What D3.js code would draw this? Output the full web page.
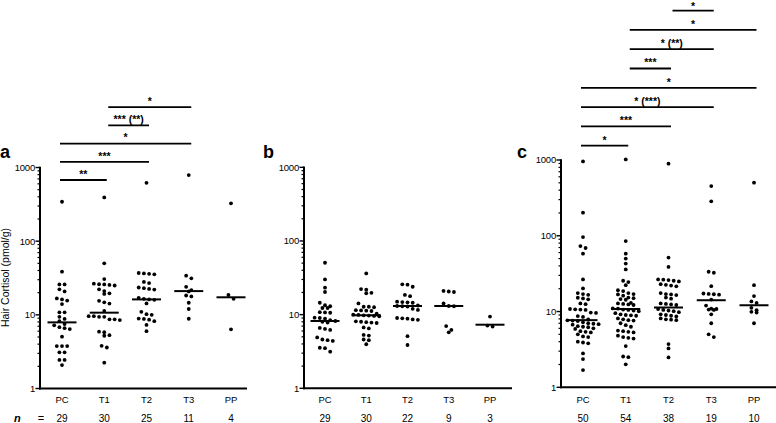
<!DOCTYPE html>
<html><head><meta charset="utf-8">
<script src="https://cdn.jsdelivr.net/npm/d3@7"></script>
<style>
body{margin:0;background:#fff}
svg{display:block}
text{font-family:"Liberation Sans",Arial,Helvetica,sans-serif;fill:#000}
</style>
</head><body>
<svg id="chart" width="776" height="423"></svg>
<script>
// ---------- data ----------
const categories = ["PC","T1","T2","T3","PP"];

const valuesA = [
  [343,38.5,25.9,25.9,22.2,20.8,16.7,16.2,15.6,14.0,10.8,10.8,9.4,8.8,8.2,7.5,7.2,6.8,6.6,6.4,5.05,3.77,3.77,3.77,3.1,3.1,2.44,2.44,2.08],
  [393,50,30.6,26.5,26,25.9,25.5,25,22.2,21,19.6,19.2,15.5,14.8,14.2,11.3,9.6,9.6,9.4,9.4,8.7,8.7,8.5,5.9,5.8,5.3,5.2,3.8,3.6,2.24],
  [620,37,36.5,36,35.5,28,27,23.5,23,22.5,22,17,16.5,16.2,16,14.3,11,10.2,10,8.9,8.8,8.6,8.2,7.3,6.0],
  [789,34,31.3,24,21.7,20.8,18.3,17.8,14.6,12,8.85],
  [326,18.6,16.5,6.35]
];
const mediansA = [7.9,10.7,16.2,21,17.3];
const nA = [29,30,25,11,4];

const valuesB = [
  [50.6,30.1,23.2,20.3,14.5,13.4,13.0,12.3,12.3,10.8,10.7,10.6,9.1,9.0,8.8,8.4,8.2,8.0,7.8,6.6,6.4,6.2,4.9,4.6,4.5,4.4,3.55,3.5,3.14],
  [36.3,22.2,21.8,19.8,19.5,14.2,12.8,12.8,12.6,11.5,11.4,11.3,11.2,10.3,10.0,9.9,9.8,9.7,9.6,9.5,8.1,8.0,7.9,7.8,7.7,6.7,6.5,5.3,5.2,4.6,4.5,3.96],
  [25.8,25.5,23.9,18.5,17.8,15.0,14.8,14.7,14.5,13.3,13.1,13.0,12.9,12.0,11.6,9.0,8.9,8.8,8.6,8.5,5.1,3.87],
  [21.0,20.6,20.3,14.2,13.1,13.0,7.0,6.2,5.75],
  [9.4,7.1,6.9]
];
const mediansB = [8.2,9.8,13.1,13.1,7.3];
const nB = [29,30,22,9,3];

const valuesC = [
  [958,202,96,73,69,58,26.5,20.2,17.5,17.0,16.6,15.2,14.9,14.5,12.8,12.5,10.8,10.7,10.6,10.5,9.7,9.6,8.7,8.5,7.9,7.65,7.6,7.5,7.2,7.0,6.9,6.8,6.7,6.4,6.3,6.2,6.0,5.9,5.5,5.4,5.3,5.0,4.7,4.6,4.0,3.9,3.8,2.8,2.36,1.69],
  [1018,85,58,50,43,36,25.5,24.5,22.3,19.1,18.6,17.5,17.0,16.8,16.2,15.3,15.0,14.6,14.3,13.0,12.8,12.6,12.4,12.2,11.0,10.9,10.6,10.5,10.3,10.1,9.5,9.2,9.0,8.9,8.8,8.1,7.9,7.7,7.6,7.0,6.6,6.3,5.6,5.5,5.4,5.3,4.8,4.6,4.5,4.4,3.5,2.55,2.5,2.01],
  [894,51.6,38.8,26.5,26.3,26.0,25.5,25.0,23,22.5,22,21.5,17.5,17,16.8,16.5,15.3,14.8,12.8,12.6,12.4,12.2,10.8,10.5,10.3,10.1,9.8,9.2,9.0,8.8,8.6,8.1,7.9,7.8,7.7,3.72,3.26,2.48],
  [453,285,33.5,32.5,21.6,17.3,17.1,16.9,16.7,14.4,12.0,10.9,10.8,10.6,10.5,9.2,7.0,5.0,4.6],
  [502,22.3,16,13.6,13.0,11.2,10.4,9.9,9.7,7.0]
];
const mediansC = [7.7,10.8,11.3,14.1,12.1];
const nC = [50,54,38,19,10];

const bracketsA = [
  {from:"PC",to:"T1",label:"**",level:0},
  {from:"PC",to:"T2",label:"***",level:1},
  {from:"PC",to:"T3",label:"*",level:2},
  {from:"T1",to:"T2",label:"*** (**)",level:3},
  {from:"T1",to:"T3",label:"*",level:4}
];
const bracketsC = [
  {from:"PC",to:"T1",label:"*",level:0},
  {from:"PC",to:"T2",label:"***",level:1},
  {from:"PC",to:"T3",label:"* (***)",level:2},
  {from:"PC",to:"PP",label:"*",level:3},
  {from:"T1",to:"T2",label:"***",level:4},
  {from:"T1",to:"T3",label:"* (**)",level:5},
  {from:"T1",to:"PP",label:"*",level:6},
  {from:"T2",to:"T3",label:"*",level:7}
];
const yTicksMajor = [1,10,100,1000];

// ---------- layout ----------
const panels = [
  {letter:"a", values:valuesA, medians:mediansA, n:nA, brackets:bracketsA,
   axisX:40, xEnd:247, yBottom:388.5, yTop:167.5, catRange:[62,231], letterX:0,
   bracketBase:180, bracketStep:18.2, yLabel:true, nLabel:true},
  {letter:"b", values:valuesB, medians:mediansB, n:nB, brackets:[],
   axisX:304, xEnd:512, yBottom:388.3, yTop:167.3, catRange:[325,490], letterX:263,
   bracketBase:0, bracketStep:0, yLabel:false, nLabel:false},
  {letter:"c", values:valuesC, medians:mediansC, n:nC, brackets:bracketsC,
   axisX:561, xEnd:776, yBottom:387.3, yTop:160, catRange:[583,754], letterX:517,
   bracketBase:145.7, bracketStep:19.3, yLabel:false, nLabel:false}
];

const svg = d3.select("#chart");

function swarm(vals, y, cx) {
  const pts = vals.map(v => ({v, y: y(v)})).sort((a,b) => a.y - b.y);
  const rows = []; let cur = null;
  for (const p of pts) {
    if (!cur || p.y - cur[0].y > 4.0) { cur = [p]; rows.push(cur); }
    else cur.push(p);
  }
  rows.forEach(r => r.forEach((p,i) => { p.x = cx + (i - (r.length-1)/2) * 5.2; }));
  return pts;
}

panels.forEach(P => {
  const g = svg.append("g");
  const y = d3.scaleLog().domain([1,1000]).range([P.yBottom, P.yTop]);
  const x = d3.scalePoint().domain(categories).range(P.catRange);

  // minor ticks
  const minor = [];
  [1,10,100].forEach(d => { for (let k=2;k<=9;k++) minor.push(d*k); });
  g.selectAll("line.minor").data(minor).join("line")
    .attr("x1", P.axisX-2.5).attr("x2", P.axisX)
    .attr("y1", d=>y(d)).attr("y2", d=>y(d))
    .attr("stroke","#000").attr("stroke-width",1.2);
  g.selectAll("line.major").data(yTicksMajor).join("line")
    .attr("x1", P.axisX-4.5).attr("x2", P.axisX)
    .attr("y1", d=>y(d)).attr("y2", d=>y(d))
    .attr("stroke","#000").attr("stroke-width",1.4);
  g.selectAll("text.tick").data(yTicksMajor).join("text")
    .attr("x", P.axisX-5).attr("y", d=>y(d)).attr("dy","0.36em")
    .attr("text-anchor","end").style("font-size","9.5px").style("letter-spacing","-0.2px")
    .text(d=>d);

  // axes lines
  g.append("line").attr("x1",P.axisX).attr("x2",P.axisX)
    .attr("y1",y(1000)-0.8).attr("y2",y(1)+1)
    .attr("stroke","#000").attr("stroke-width",2);
  g.append("line").attr("x1",P.axisX-1).attr("x2",P.xEnd)
    .attr("y1",y(1)).attr("y2",y(1))
    .attr("stroke","#000").attr("stroke-width",2);

  // category labels
  g.selectAll("text.cat").data(categories).join("text")
    .attr("x", d=>x(d)).attr("y", 402.5).attr("text-anchor","middle")
    .style("font-size","9.5px").text(d=>d);
  g.selectAll("text.n").data(P.n).join("text")
    .attr("x", (d,i)=>x(categories[i])).attr("y", 421.5).attr("text-anchor","middle")
    .style("font-size","10px").text(d=>d);

  // dots
  P.values.forEach((vals,i) => {
    const pts = swarm(vals, y, x(categories[i]));
    g.append("g").selectAll("circle").data(pts).join("circle")
      .attr("cx", d=>d.x).attr("cy", d=>d.y).attr("r", 1.9).attr("fill","#000");
  });

  // medians
  g.selectAll("line.med").data(P.medians).join("line")
    .attr("x1",(d,i)=>x(categories[i])-14.5).attr("x2",(d,i)=>x(categories[i])+14.5)
    .attr("y1",d=>y(d)).attr("y2",d=>y(d))
    .attr("stroke","#000").attr("stroke-width",2);

  // brackets
  P.brackets.forEach(b => {
    const ly = P.bracketBase - b.level * P.bracketStep;
    const x1 = x(b.from) + (b.from === categories[0] ? -2 : 4);
    const x2 = x(b.to) + 2.5;
    g.append("line").attr("x1",x1).attr("x2",x2).attr("y1",ly).attr("y2",ly)
      .attr("stroke","#000").attr("stroke-width",1.8);
    g.append("text").attr("x",(x1+x2)/2).attr("y",Math.max(ly-2.2, 10)).attr("text-anchor","middle")
      .style("font-size","10.5px").style("font-weight","bold").text(b.label);
  });

  // panel letter
  g.append("text").attr("x",P.letterX).attr("y",158)
    .style("font-size","18px").style("font-weight","bold").text(P.letter);

  if (P.yLabel) {
    g.append("text").attr("transform","translate(9,277.5) rotate(-90)")
      .attr("text-anchor","middle").style("font-size","10.5px")
      .text("Hair Cortisol (pmol/g)");
  }
  if (P.nLabel) {
    g.append("text").attr("x",14).attr("y",421.5)
      .style("font-size","11px").style("font-weight","bold").style("font-style","italic").text("n");
    g.append("text").attr("x",41).attr("y",421.5).attr("text-anchor","middle")
      .style("font-size","11px").text("=");
  }
});
</script>
</body></html>
